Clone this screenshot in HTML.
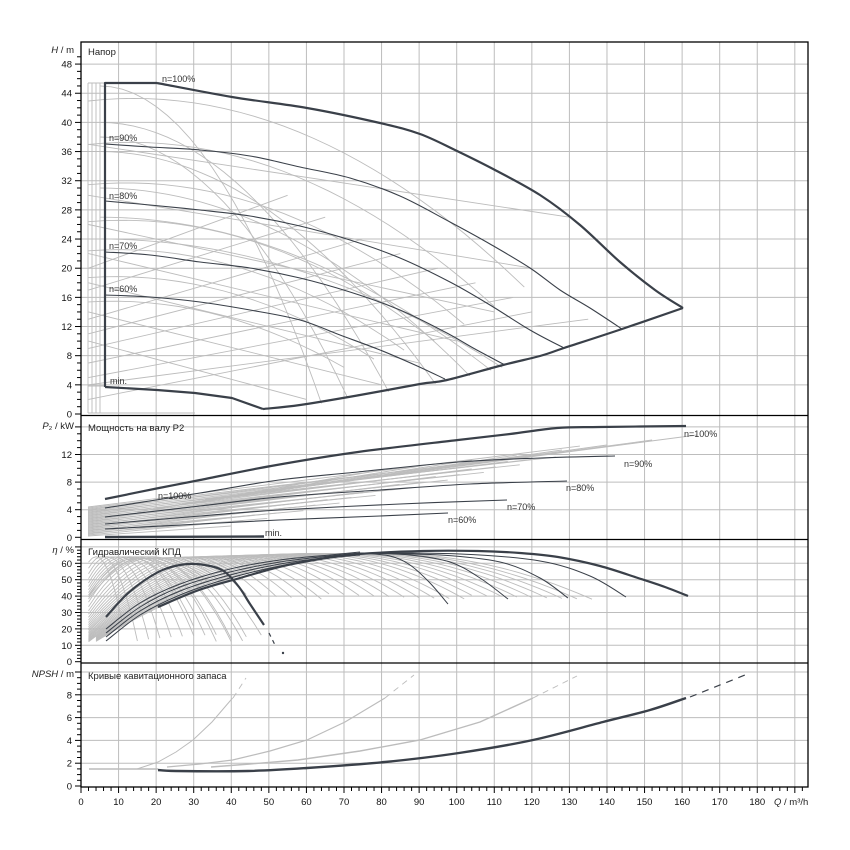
<!DOCTYPE html>
<html><head><meta charset="utf-8"><style>
html,body{margin:0;padding:0;background:#fff;}
svg{display:block;font-family:"Liberation Sans","DejaVu Sans",sans-serif;}
</style></head><body>
<svg id="s" width="850" height="850" viewBox="0 0 850 850" xmlns="http://www.w3.org/2000/svg">
<defs>
<clipPath id="hc"><polygon points="84,80 157,80 232,94 307,105 380,120 420,131 455,147 495,167 540,192 580,222 620,259 655,287 686,308 622,331 564,350 503,367 447,382 420,386 360,397 300,407 263,414 84,414"/></clipPath>
<clipPath id="rest"><rect x="81" y="415" width="727" height="372"/></clipPath>
</defs>
<rect width="850" height="850" fill="#fff"/>
<g id="grid" stroke="#bdbdbd" stroke-width="1" fill="none"></g>
<g id="greyH" stroke="#bcbcbc" stroke-width="0.9" fill="none" clip-path="url(#hc)"></g>
<g id="grey" stroke="#bcbcbc" stroke-width="0.9" fill="none" clip-path="url(#rest)"></g>
<g id="dark" stroke="#3a4049" fill="none" stroke-linejoin="round">
<polyline stroke-width="2.2" points="105,387 105,83 157,83"/>
<polyline class="sm" stroke-width="2.2" points="157,83 232,97 307,108 380,123 420,134 455,150 495,170 540,195 580,225 620,262 655,290 683,308"/>
<polyline stroke-width="2.2" points="105,387 157,390 195,393 232,398 263,409"/>
<polyline class="sm" stroke-width="2.2" points="263,409 300,405 360,395 420,384 447,380 503,365 540,356 564,348 622,329 683,308"/>
<polyline class="sm" stroke-width="1.1" points="105,144 150,147 200,150 250,156 300,167 350,178 400,196 450,222 490,244 530,268 560,290 590,308 622,329"/>
<polyline class="sm" stroke-width="1.1" points="105,201 150,205 200,210 250,216 300,226 350,240 400,258 450,282 490,305 530,330 564,348"/>
<polyline class="sm" stroke-width="1.1" points="105,252 150,255 200,262 250,268 300,278 350,292 400,310 445,332 475,349 505,365"/>
<polyline class="sm" stroke-width="1.1" points="105,295 150,297 200,302 250,310 300,320 340,335 380,350 415,365 445,379"/>
<polyline class="sm" stroke-width="2.2" points="105,499 159,488 200,480 271,466 358,452 458,440 510,434 557,428 600,427 686,426"/>
<polyline class="sm" stroke-width="1.1" points="105,508 200,493 279,480 358,472 458,462 540,458 615,456"/>
<polyline class="sm" stroke-width="1.1" points="105,517 200,506 279,497 380,490 470,484 567,481"/>
<polyline class="sm" stroke-width="1.1" points="105,524 200,516 279,510 400,504 507,500"/>
<polyline class="sm" stroke-width="1.1" points="105,529 200,524 279,520 380,516 448,513"/>
<line stroke-width="2.4" x1="105" y1="537" x2="264" y2="536.5"/>
<polyline class="sm" stroke-width="2.2" points="106,617 125,596 145,580 165,569 188,564 210,566 225,572 239,587 250,604 264,625"/>
<polyline stroke-width="1.2" stroke-dasharray="4,4" points="269,633 275,645"/>
<circle cx="283" cy="653" r="0.7" fill="#3a4049"/>
<polyline class="sm" stroke-width="2.2" points="158,607 199,590 240,578 279,567 320,559 359,554 423,551 478,551 520,553 558,557 600,566 638,578 665,587 688,596"/>
<polyline class="sm" stroke-width="1" points="106,641 140,615 180,595 230,578 280,566 330,558 360,555"/>
<polyline class="sm" stroke-width="1" points="106,637 140,611 180,591 230,575 280,564 330,557 360,554"/>
<polyline class="sm" stroke-width="1" points="106,633 140,607 180,587 230,572 280,562 330,556 360,553"/>
<polyline class="sm" stroke-width="1" points="106,629 140,603 180,584 230,569 280,560 330,555 360,552"/>
<polyline class="sm" stroke-width="1" points="360,553 390,556 410,565 430,583 448,604"/>
<polyline class="sm" stroke-width="1" points="360,553 410,555 450,562 480,578 508,599"/>
<polyline class="sm" stroke-width="1" points="360,553 440,555 500,562 540,578 568,598"/>
<polyline class="sm" stroke-width="1" points="360,553 460,554 540,561 590,576 626,597"/>
<polyline class="sm" stroke-width="2.4" points="158,770 176,771 248,771 307,768 385,762 459,753 533,740 603,722 650,710 686,698"/>
<polyline stroke-width="1.2" stroke-dasharray="7,6" points="690,697 745,675"/>
</g>
<g id="ax" stroke="#000" fill="none"></g>
<g id="txt" font-size="9.5" fill="#111"></g>
<g font-size="9.5" fill="#222">
<text x="88" y="55">Напор</text>
<text x="88" y="431">Мощность на валу P2</text>
<text x="88" y="555">Гидравлический КПД</text>
<text x="88" y="679">Кривые кавитационного запаса</text>
<g fill="#333" font-size="9">
<text x="162" y="82">n=100%</text>
<text x="109" y="141">n=90%</text>
<text x="109" y="199">n=80%</text>
<text x="109" y="249">n=70%</text>
<text x="109" y="292">n=60%</text>
<text x="110" y="384">min.</text>
<text x="684" y="437">n=100%</text>
<text x="624" y="467">n=90%</text>
<text x="566" y="491">n=80%</text>
<text x="507" y="510">n=70%</text>
<text x="448" y="523">n=60%</text>
<text x="158" y="499">n=100%</text>
<text x="265" y="536">min.</text>
</g>
<text x="74" y="53" text-anchor="end"><tspan font-style="italic">H</tspan> / m</text>
<text x="74" y="429" text-anchor="end"><tspan font-style="italic">P</tspan>₂ / kW</text>
<text x="74" y="553" text-anchor="end"><tspan font-style="italic">η</tspan> / %</text>
<text x="74" y="677" text-anchor="end"><tspan font-style="italic">NPSH</tspan> / m</text>
<text x="774" y="805"><tspan font-style="italic">Q</tspan> / m³/h</text>
</g>
</svg>
<script>
(function(){
var NS="http://www.w3.org/2000/svg";
function el(g,tag,a){var e=document.createElementNS(NS,tag);for(var k in a)e.setAttribute(k,a[k]);document.getElementById(g).appendChild(e);return e;}
function X(q){return 81+3.757*q;}
function YH(h){return 414-7.29*h;}
function YE(e){return 661.7-1.64*e;}
function pl(g,pts,w){if(pts.length<2)return;el(g,'polyline',{points:pts.map(function(p){return p[0].toFixed(1)+','+p[1].toFixed(1)}).join(' '),'stroke-width':w||0.9});}
Array.prototype.slice.call(document.querySelectorAll('#dark polyline.sm')).forEach(function(p){
 var P=p.getAttribute('points').trim().split(/\s+/).map(function(s){return s.split(',').map(Number);});
 var d='M'+P[0][0]+','+P[0][1];
 for(var i=0;i<P.length-1;i++){var p0=P[i-1]||P[i],p1=P[i],p2=P[i+1],p3=P[i+2]||p2;
  var c1=[p1[0]+(p2[0]-p0[0])/6,p1[1]+(p2[1]-p0[1])/6],c2=[p2[0]-(p3[0]-p1[0])/6,p2[1]-(p3[1]-p1[1])/6];
  d+=' C'+c1[0].toFixed(1)+','+c1[1].toFixed(1)+' '+c2[0].toFixed(1)+','+c2[1].toFixed(1)+' '+p2[0]+','+p2[1];}
 var e=document.createElementNS(NS,'path');e.setAttribute('d',d);e.setAttribute('stroke-width',p.getAttribute('stroke-width'));
 p.parentNode.replaceChild(e,p);});
var L=81,R=808;
for(var q=10;q<=190;q+=10){var x=X(q);if(x<R)el('grid','line',{x1:x,y1:42,x2:x,y2:787});}
for(var h=4;h<=48;h+=4)el('grid','line',{x1:L,y1:YH(h),x2:R,y2:YH(h)});
for(var p=4;p<=16;p+=4){var y=537.3-6.9*p;if(y>416)el('grid','line',{x1:L,y1:y,x2:R,y2:y});}
for(var e=10;e<=70;e+=10){var y=YE(e);if(y>540)el('grid','line',{x1:L,y1:y,x2:R,y2:y});}
for(var n=2;n<=10;n+=2){var y=786-11.4*n;if(y>664)el('grid','line',{x1:L,y1:y,x2:R,y2:y});}
[88,92,96,100].forEach(function(x){el('greyH','line',{x1:x,y1:83,x2:x,y2:413});});
el('greyH','line',{x1:88,y1:83,x2:105,y2:83});
el('greyH','line',{x1:88,y1:413,x2:195,y2:413});
el('greyH','line',{x1:88,y1:386,x2:105,y2:386});
[0.97,0.9,0.83,0.76,0.7,0.64,0.58].forEach(function(d){var pts=[];var H0=45.5*d*d;for(var q=2;q<=125*d;q+=4){var hh=H0+0.07*d*q-0.0024*q*q;if(hh<3)break;pts.push([X(q),YH(hh)]);}pl('greyH',pts);});
[[45,60],[40,80],[36,95],[31,108],[27,118],[38,68],[24,125]].forEach(function(a){var pts=[];for(var q=0;q<=a[1];q+=3){var hh=a[0]*(1-Math.pow(q/a[1],2));pts.push([X(q+5),YH(hh)]);}pl('greyH',pts);});
[[2,120,14],[5,115,16],[7,105,18],[9,95,20],[11,85,22],[13,75,24],[17,65,27],[20,55,30],[4,135,13]].forEach(function(a){pl('greyH',[[X(2),YH(a[0])],[X(a[1]),YH(a[2])]]);});
[[30,120,20],[26,110,14],[22,100,10],[18,90,7],[14,80,4],[37,130,27],[10,60,2]].forEach(function(a){pl('greyH',[[X(2),YH(a[0])],[X(a[1]),YH(a[2])]]);});
for(var i=0;i<30;i++){var y0=536-i*1.0;var qe=40+i*3.2;var ye=y0-10-i*1.55-(i%3)*3;pl('grey',[[88,y0],[X(qe),ye]],0.9);}
for(var i=0;i<8;i++){pl('grey',[[X(15+i*3),512-i*2],[X(80+i*12),470-i*5]],0.9);}
for(var qo=14;qo<=82;qo+=2.3){var pts=[];var w=qo*0.98+6;var em=62+4*Math.min(1,qo/60);var cut=qo>25?38:12;for(var q=2;q<=qo+w*0.9;q+=2){var ee=em*(1-Math.pow((q-qo)/w,2));if(q<qo&&ee<12)continue;if(q>qo&&ee<cut)break;pts.push([X(q),YE(ee)]);}pl('grey',pts,0.9);}
for(var qo=4;qo<=20;qo+=1.5){var pts=[];var w=qo*1.2+4;for(var q=2;q<=qo+w*0.95;q+=1){var ee=64*(1-Math.pow((q-qo)/w,2));if(ee<12)continue;pts.push([X(q),YE(ee)]);}pl('grey',pts,0.9);}
pl('grey',[[89,769],[158,769]],1.5);
pl('grey',[[137,769],[158,762],[176,752],[193,740],[212,722],[232.6,698]],1);
pl('grey',[[167,767],[200,764],[232.6,760],[270,751],[307,740],[345,722],[385,698]],1.2);
pl('grey',[[211,767],[250,764],[298,760],[360,751],[420,740],[480,722],[533,698]],1.4);
[[[233,698],[246,678]],[[385,698],[414,675]],[[533,698],[577,676]]].forEach(function(s){el('grey','polyline',{points:s.map(function(p){return p.join(',')}).join(' '),'stroke-dasharray':'6,5','stroke-width':0.9});});
el('ax','rect',{x:L,y:42,width:R-L,height:787-42,'stroke-width':1.3});
[415.5,539.5,663].forEach(function(y){el('ax','line',{x1:L,y1:y,x2:R,y2:y,'stroke-width':1.3});});
function ticks(y0,y1,pxPer,step,major,lblStep,vmax){
  for(var v=0;v<=vmax+1e-6;v+=step){var y=y0-v*pxPer;if(y<y1)break;var isM=Math.abs(v/lblStep-Math.round(v/lblStep))<1e-6;el('ax','line',{x1:isM?75:77,y1:y,x2:L,y2:y,'stroke-width':1});
  if(isM&&v<=major){var t=el('txt','text',{x:72,y:y+3.5,'text-anchor':'end'});t.textContent=Math.round(v);}}
}
ticks(414,44,7.29,1,48,4,49);
ticks(537.3,418,6.9,1,12,4,16);
ticks(661.7,542,1.64,2,60,10,70);
ticks(786,666,11.4,0.5,8,2,10);
for(var q=0;q<=192;q+=2){var x=X(q);if(x>R)break;var m=q%10==0;el('ax','line',{x1:x,y1:787,x2:x,y2:m?793:791,'stroke-width':1});
 if(m&&q<=180){var t=el('txt','text',{x:x,y:805,'text-anchor':'middle'});t.textContent=q;}}
})();
</script>
</body></html>
